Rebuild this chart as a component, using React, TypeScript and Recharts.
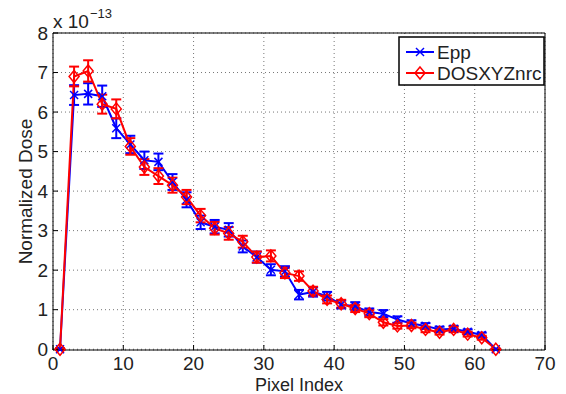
import { ComposedChart, Line, XAxis, YAxis, CartesianGrid, ErrorBar } from "recharts";

const pixelIndex = [1, 3, 5, 7, 9, 11, 13, 15, 17, 19, 21, 23, 25, 27, 29, 31, 33, 35, 37, 39, 41, 43, 45, 47, 49, 51, 53, 55, 57, 59, 61, 63];

// dose values in units of 1e-13
const epp = [0, 6.43, 6.46, 6.4, 5.59, 5.18, 4.78, 4.74, 4.23, 3.78, 3.21, 3.1, 3.02, 2.6, 2.33, 2.01, 1.97, 1.38, 1.45, 1.34, 1.13, 1.09, 0.94, 0.9, 0.75, 0.65, 0.59, 0.5, 0.52, 0.44, 0.36, 0];
const eppErr = [0.02, 0.25, 0.27, 0.27, 0.25, 0.22, 0.22, 0.21, 0.2, 0.19, 0.17, 0.17, 0.17, 0.15, 0.14, 0.14, 0.13, 0.12, 0.12, 0.11, 0.1, 0.1, 0.09, 0.09, 0.08, 0.08, 0.07, 0.07, 0.07, 0.06, 0.06, 0.01];

const dosxyz = [0, 6.9, 7.04, 6.2, 6.08, 5.13, 4.61, 4.38, 4.15, 3.85, 3.38, 3.06, 2.93, 2.72, 2.33, 2.36, 1.93, 1.85, 1.47, 1.26, 1.15, 1.03, 0.9, 0.68, 0.59, 0.6, 0.5, 0.43, 0.5, 0.38, 0.29, 0];
const dosxyzErr = [0.02, 0.25, 0.27, 0.24, 0.24, 0.21, 0.2, 0.2, 0.19, 0.18, 0.17, 0.16, 0.16, 0.15, 0.14, 0.14, 0.13, 0.12, 0.11, 0.1, 0.1, 0.09, 0.09, 0.08, 0.07, 0.07, 0.07, 0.06, 0.07, 0.06, 0.05, 0.01];

const xTicks = [0, 10, 20, 30, 40, 50, 60, 70];
const yTicks = [0, 1, 2, 3, 4, 5, 6, 7, 8];

const data = pixelIndex.map((x, i) => ({
  x,
  epp: epp[i],
  eppErr: eppErr[i],
  dosxyz: dosxyz[i],
  dosxyzErr: dosxyzErr[i],
}));

const FONT = '"Liberation Sans", Helvetica, Arial, sans-serif';
const BLUE = "#0000ff";
const RED = "#ff0000";
const tickStyle = { fill: "#222", fontSize: 19, fontFamily: FONT };

const XMark = (props: any) => {
  const { cx, cy } = props;
  if (cx == null || cy == null) return <g key={props.key} />;
  return (
    <g key={props.key}>
      <line x1={cx - 4} y1={cy - 4} x2={cx + 4} y2={cy + 4} stroke={BLUE} strokeWidth={1.5} />
      <line x1={cx - 4} y1={cy + 4} x2={cx + 4} y2={cy - 4} stroke={BLUE} strokeWidth={1.5} />
    </g>
  );
};

const Diamond = (props: any) => {
  const { cx, cy } = props;
  if (cx == null || cy == null) return <g key={props.key} />;
  return (
    <polygon
      key={props.key}
      points={`${cx},${cy - 6} ${cx + 5},${cy} ${cx},${cy + 6} ${cx - 5},${cy}`}
      fill="none"
      stroke={RED}
      strokeWidth={1.5}
    />
  );
};

export default function App() {
  return (
    <div style={{ position: "absolute", left: 0, top: 0, width: 566, height: 394, background: "#fff" }}>
      <ComposedChart width={566} height={394} data={data} margin={{ top: 32, right: 20, left: 0, bottom: 0 }}>
        <CartesianGrid stroke="#777" strokeDasharray="1 3" />
        <XAxis
          dataKey="x"
          type="number"
          domain={[0, 70]}
          ticks={xTicks}
          height={44}
          tickSize={-5}
          tickMargin={12}
          axisLine={{ stroke: "#000" }}
          tickLine={{ stroke: "#000" }}
          tick={tickStyle}
          label={{ value: "Pixel Index", position: "insideBottom", offset: 3, fill: "#222", fontSize: 18, fontFamily: FONT }}
        />
        <XAxis
          xAxisId="top"
          orientation="top"
          type="number"
          domain={[0, 70]}
          ticks={xTicks}
          allowDataOverflow
          height={1}
          tickSize={-5}
          tick={false}
          axisLine={{ stroke: "#000" }}
          tickLine={{ stroke: "#000" }}
        />
        <YAxis
          type="number"
          domain={[0, 8]}
          ticks={yTicks}
          width={53}
          tickSize={-5}
          tickMargin={10}
          axisLine={{ stroke: "#000" }}
          tickLine={{ stroke: "#000" }}
          tick={tickStyle}
          label={{
            value: "Normalized Dose",
            angle: -90,
            position: "insideLeft",
            offset: 25,
            fill: "#222",
            fontSize: 19,
            fontFamily: FONT,
            style: { textAnchor: "middle" },
          }}
        />
        <YAxis
          yAxisId="right"
          orientation="right"
          type="number"
          domain={[0, 8]}
          ticks={yTicks}
          allowDataOverflow
          width={1}
          tickSize={-5}
          tick={false}
          axisLine={{ stroke: "#000" }}
          tickLine={{ stroke: "#000" }}
        />
        <Line dataKey="epp" stroke={BLUE} strokeWidth={2} dot={XMark} activeDot={false} isAnimationActive={false}>
          <ErrorBar dataKey="eppErr" direction="y" width={5} stroke={BLUE} strokeWidth={2} />
        </Line>
        <Line dataKey="dosxyz" stroke={RED} strokeWidth={2} dot={Diamond} activeDot={false} isAnimationActive={false}>
          <ErrorBar dataKey="dosxyzErr" direction="y" width={5} stroke={RED} strokeWidth={2} />
        </Line>
      </ComposedChart>
      <svg width={566} height={394} style={{ position: "absolute", left: 0, top: 0, pointerEvents: "none" }}>
        <text x={53} y={28} fontSize={19} fontFamily={FONT} fill="#222">
          x 10
          <tspan x={90} y={18} fontSize={13}>−13</tspan>
        </text>
        <rect x={399} y={37} width={145} height={48} fill="#fff" stroke="#000" strokeWidth={1.5} />
        <line x1={406} y1={52} x2={434} y2={52} stroke={BLUE} strokeWidth={2} />
        <XMark cx={420} cy={52} />
        <text x={437} y={59} fontSize={19} fontFamily={FONT} fill="#222">Epp</text>
        <line x1={406} y1={73} x2={434} y2={73} stroke={RED} strokeWidth={2} />
        <Diamond cx={420} cy={73} />
        <text x={437} y={80} fontSize={19} fontFamily={FONT} fill="#222">DOSXYZnrc</text>
      </svg>
    </div>
  );
}
